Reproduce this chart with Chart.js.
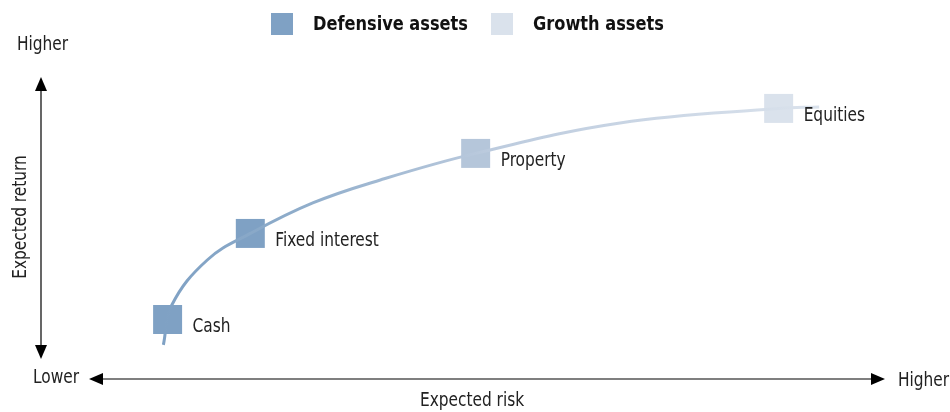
<!DOCTYPE html>
<html>
<head>
<meta charset="utf-8">
<script src="https://cdn.jsdelivr.net/npm/chart.js@4.4.0/dist/chart.umd.min.js"></script>
<style>
  html, body { margin: 0; padding: 0; background: #fff; }
  #wrap { width: 950px; height: 412px; }
</style>
</head>
<body>
<div id="wrap"><canvas id="riskChart"></canvas></div>
<script>
// asset classes (risk, return on a 0-10 scale)
const assets = ["Cash", "Fixed interest", "Property", "Equities"];
const assetRisk = [1.50, 2.48, 5.15, 8.74];
const assetReturn = [1.97, 4.82, 7.47, 8.96];
const assetColors = ["#7fa1c4", "#7fa1c4", "#b5c6da", "#dae2ec"];

// risk / return curve
const curveRisk = [1.45, 1.55, 1.97, 2.48, 3.22, 4.02, 5.15, 6.86, 8.74, 9.22];
const curveReturn = [1.13, 2.45, 3.94, 4.82, 5.83, 6.59, 7.47, 8.48, 8.96, 9.01];

const legendNames = ["Defensive assets", "Growth assets"];
const legendColors = ["#7fa1c4", "#dae2ec"];

const FONT = '"Liberation Sans Narrow", "DejaVu Sans Condensed", sans-serif';
const TEXT = "#222";

// narrow-looking text: draw a slightly squeezed glyph run
function drawText(ctx, str, x, y, font, align) {
  const sx = 0.9;
  ctx.save();
  ctx.font = font;
  ctx.textAlign = align || "left";
  ctx.textBaseline = "middle";
  ctx.translate(x, y);
  ctx.scale(sx, 1);
  ctx.fillText(str, 0, 0);
  ctx.restore();
}

const decorPlugin = {
  id: "decor",
  afterDatasetsDraw(chart) {
    const ctx = chart.ctx;
    const a = chart.chartArea;
    ctx.save();

    // labels next to markers
    const meta = chart.getDatasetMeta(1);
    ctx.fillStyle = TEXT;
    meta.data.forEach((p, i) => {
      drawText(ctx, assets[i], p.x + 25, p.y + 8, "19px " + FONT);
    });

    // axis arrows
    ctx.strokeStyle = "#000";
    ctx.fillStyle = "#000";
    ctx.lineWidth = 1.2;
    const vx = a.left, vTop = a.top, vBot = a.bottom - 20;
    ctx.beginPath();
    ctx.moveTo(vx, vTop + 10);
    ctx.lineTo(vx, vBot - 10);
    ctx.stroke();
    ctx.beginPath();
    ctx.moveTo(vx, vTop); ctx.lineTo(vx - 6, vTop + 14); ctx.lineTo(vx + 6, vTop + 14); ctx.closePath();
    ctx.fill();
    ctx.beginPath();
    ctx.moveTo(vx, vBot); ctx.lineTo(vx - 6, vBot - 14); ctx.lineTo(vx + 6, vBot - 14); ctx.closePath();
    ctx.fill();

    const hy = a.bottom, hL = a.left + 48, hR = a.right;
    ctx.beginPath();
    ctx.moveTo(hL + 10, hy);
    ctx.lineTo(hR - 10, hy);
    ctx.stroke();
    ctx.beginPath();
    ctx.moveTo(hL, hy); ctx.lineTo(hL + 14, hy - 6); ctx.lineTo(hL + 14, hy + 6); ctx.closePath();
    ctx.fill();
    ctx.beginPath();
    ctx.moveTo(hR, hy); ctx.lineTo(hR - 14, hy - 6); ctx.lineTo(hR - 14, hy + 6); ctx.closePath();
    ctx.fill();

    // axis words
    ctx.fillStyle = TEXT;
    const f = "19px " + FONT;
    drawText(ctx, "Higher", 17, 45, f);
    drawText(ctx, "Lower", 33, 378, f);
    drawText(ctx, "Higher", 898, 381, f);
    drawText(ctx, "Expected risk", 472, 401, f, "center");
    ctx.save();
    ctx.translate(21, 217);
    ctx.rotate(-Math.PI / 2);
    drawText(ctx, "Expected return", 0, 0, f, "center");
    ctx.restore();

    // legend
    const lx = [271, 491];
    legendNames.forEach((name, i) => {
      ctx.fillStyle = legendColors[i];
      ctx.fillRect(lx[i], 13, 22, 22);
      ctx.fillStyle = "#111";
      drawText(ctx, name, lx[i] + 42, 25, "bold 20px " + FONT);
    });

    ctx.restore();
  }
};

new Chart(document.getElementById("riskChart"), {
  type: "scatter",
  data: {
    datasets: [
      {
        type: "line",
        data: curveRisk.map((x, i) => ({ x: x, y: curveReturn[i] })),
        borderWidth: 3,
        tension: 0.4,
        pointRadius: 0,
        fill: false,
        borderColor(c) {
          const a = c.chart.chartArea;
          if (!a) return "#9fb6d2";
          const xs = c.chart.scales.x;
          const g = c.chart.ctx.createLinearGradient(xs.getPixelForValue(curveRisk[0]), 0,
            xs.getPixelForValue(curveRisk[curveRisk.length - 1]), 0);
          g.addColorStop(0, "#7fa1c4");
          g.addColorStop(0.2, "#8eacca");
          g.addColorStop(0.5, "#bccbde");
          g.addColorStop(1, "#dae2ec");
          return g;
        }
      },
      {
        data: assetRisk.map((x, i) => ({ x: x, y: assetReturn[i] })),
        pointStyle: "rect",
        pointRadius: 20.5,
        pointHoverRadius: 20.5,
        borderWidth: 0,
        backgroundColor: assetColors,
        borderColor: assetColors
      }
    ]
  },
  options: {
    responsive: true,
    maintainAspectRatio: false,
    animation: false,
    events: [],
    layout: { padding: { left: 41, right: 65, top: 77, bottom: 33 } },
    plugins: { legend: { display: false }, tooltip: { enabled: false } },
    scales: {
      x: { type: "linear", min: 0, max: 10, display: false },
      y: { type: "linear", min: 0, max: 10, display: false }
    }
  },
  plugins: [decorPlugin]
});
</script>
</body>
</html>
